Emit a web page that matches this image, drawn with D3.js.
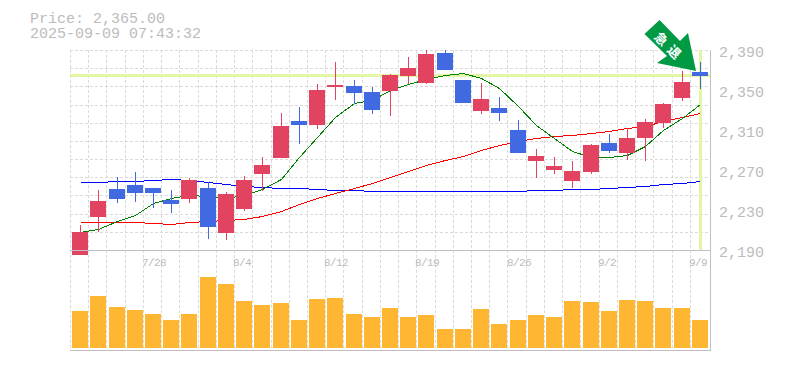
<!DOCTYPE html>
<html>
<head>
<meta charset="utf-8">
<script src="https://cdnjs.cloudflare.com/ajax/libs/d3/7.8.5/d3.min.js"></script>
<style>
  html, body { margin: 0; padding: 0; background: #fff; }
  svg { display: block; }
  text { font-family: "Liberation Mono", monospace; fill: #bcbcbc; }
</style>
</head>
<body>
<div id="chart"></div>
<script>
var dates = ["7/22","7/23","7/24","7/25","7/28","7/29","7/30","7/31","8/1","8/4","8/5","8/6","8/7","8/8","8/12","8/13","8/14","8/15","8/18","8/19","8/20","8/21","8/22","8/25","8/26","8/27","8/28","8/29","9/1","9/2","9/3","9/4","9/5","9/8","9/9"];
var dateTicks = ["7/28","8/4","8/12","8/19","8/26","9/2","9/9"];
var priceTicks = [2390,2350,2310,2270,2230,2190];

var opens  = [2185,2223,2251,2255,2252,2240,2241,2252,2207,2231,2266,2282,2319,2315,2353,2354,2348,2349,2364,2357,2387,2360,2329,2332,2310,2279,2270,2259,2268,2297,2287,2302,2317,2342,2368];
var closes = [2208,2239,2241,2247,2247,2236,2260,2213,2246,2260,2275,2314,2315,2350,2355,2347,2330,2365,2372,2386,2370,2337,2341,2327,2287,2284,2274,2269,2295,2289,2302,2318,2336,2358,2364];
var highs  = [2215,2250,2263,2268,2252,2250,2262,2258,2248,2264,2283,2327,2333,2356,2378,2360,2353,2366,2383,2390,2390,2360,2357,2343,2320,2291,2283,2279,2296,2306,2312,2321,2337,2369,2378];
var lows   = [2185,2208,2237,2238,2232,2227,2237,2201,2200,2229,2249,2282,2296,2311,2340,2336,2326,2324,2356,2356,2370,2337,2326,2319,2287,2262,2266,2252,2266,2287,2280,2279,2312,2339,2351];

var maShort = [2208,2211,2219,2225,2237,2242,2245,2244,2242,2245,2251,2261,2283,2303,2323,2337,2340,2350,2356,2361,2365,2367,2362,2352,2334,2315,2302,2289,2283,2283,2285,2294,2310,2322,2336];
var maMid   = [2218,2218,2218,2218,2217,2216,2218,2219,2220,2221,2224,2229,2236,2242,2247,2252,2257,2263,2269,2275,2280,2284,2290,2295,2299,2302,2304,2305,2307,2309,2312,2314,2319,2323,2327];
var maLong  = [2258,2258,2259,2259,2260,2261,2260,2258,2256,2254,2253,2252,2252,2251,2250,2250,2249,2249,2249,2249,2249,2249,2249,2249,2249,2250,2250,2251,2251,2252,2253,2254,2256,2257,2259];

var volumes = [37,52,41,38,34,28,34,71,64,47,43,45,28,49,50,34,31,40,31,33,19,19,39,24,28,33,31,47,46,37,48,47,40,40,28];

var currentPrice = 2365;
var priceLabel = "Price: 2,365.00";
var timeLabel = "2025-09-09 07:43:32";
var signalLabel = ["急", "退"];

var width = 785, height = 370,
    plot = {left: 71, right: 709, top: 50, bottom: 250, volBottom: 348};

var svg = d3.select("#chart").append("svg")
    .attr("width", width)
    .attr("height", height);

var x = d3.scaleBand().domain(dates).range([plot.left, plot.right]);
var y = d3.scaleLinear().domain([2190, 2390]).range([plot.bottom, plot.top]);
var v = d3.scaleLinear().domain([0, 98]).range([plot.volBottom, plot.volBottom - 98]);
var cx = function(d) { return Math.round(x(d) + x.bandwidth() / 2); };

// grid
var grid = svg.append("g").attr("stroke", "#dadada").attr("stroke-dasharray", "3,2").attr("shape-rendering", "crispEdges");
grid.selectAll("line.v").data(dates).enter().append("line")
    .attr("class", "v")
    .attr("x1", function(d) { return Math.round(x(d)) - 0.5; })
    .attr("x2", function(d) { return Math.round(x(d)) - 0.5; })
    .attr("y1", plot.top)
    .attr("y2", plot.volBottom + 2);
grid.selectAll("line.h").data(d3.range(12)).enter().append("line")
    .attr("class", "h")
    .attr("x1", plot.left - 1)
    .attr("x2", plot.right + 1)
    .attr("y1", function(d) { return Math.round(plot.top + d * 200 / 11) + 0.5; })
    .attr("y2", function(d) { return Math.round(plot.top + d * 200 / 11) + 0.5; });

// current price cross
var cross = svg.append("g").attr("stroke", "#e3f6a6").attr("stroke-width", 3).attr("shape-rendering", "crispEdges");
cross.append("line")
    .attr("x1", plot.left - 1).attr("x2", plot.right + 1)
    .attr("y1", y(currentPrice) + 0.5).attr("y2", y(currentPrice) + 0.5);
cross.append("line")
    .attr("x1", cx(dates[34]) + 0.5).attr("x2", cx(dates[34]) + 0.5)
    .attr("y1", plot.top).attr("y2", plot.bottom);

// moving averages
var line = d3.line()
    .x(function(d, i) { return cx(dates[i]) + 0.5; })
    .y(function(d) { return y(d) + 0.5; });
[[maLong, "#0000ff"], [maMid, "#ff0000"], [maShort, "#008000"]].forEach(function(s) {
  svg.append("path")
      .attr("d", line(s[0]))
      .attr("fill", "none")
      .attr("stroke", s[1])
      .attr("stroke-width", 1)
      .attr("shape-rendering", "crispEdges");
});

// signal arrow, placed relative to the last candle
var ax = cx(dates[34]) - 4, ay = y(currentPrice) - 4;
var arrow = svg.append("g").attr("transform", "translate(" + ax + "," + ay + ")");
arrow.append("path")
    .attr("d", "M0,0L-8,-38L-16,-30L-36.5,-51L-51.5,-37L-29,-15L-39,-8Z")
    .attr("fill", "#009944");
arrow.selectAll("text").data(signalLabel).enter().append("text")
    .attr("transform", function(d, i) { return "translate(" + (-35 + i * 13) + "," + (-32 + i * 13) + ") rotate(45)"; })
    .attr("text-anchor", "middle")
    .attr("dy", "0.35em")
    .style("font-family", "'Noto Sans CJK JP'")
    .style("font-size", "13px")
    .style("font-weight", "bold")
    .style("fill", "#fff")
    .text(function(d) { return d; });

// candles
var candle = svg.append("g").selectAll("g").data(dates).enter().append("g")
    .attr("fill", function(d, i) { return closes[i] >= opens[i] ? "#e24361" : "#4169e1"; })
    .attr("stroke", function(d, i) { return closes[i] >= opens[i] ? "#e24361" : "#4169e1"; })
    .attr("shape-rendering", "crispEdges");
candle.append("line")
    .attr("x1", function(d) { return cx(d) + 0.5; })
    .attr("x2", function(d) { return cx(d) + 0.5; })
    .attr("y1", function(d, i) { return y(highs[i]); })
    .attr("y2", function(d, i) { return y(lows[i]); })
    .attr("stroke-width", 1);
candle.append("rect")
    .attr("stroke", "none")
    .attr("x", function(d) { return cx(d) - 8; })
    .attr("width", 16)
    .attr("y", function(d, i) { return y(Math.max(opens[i], closes[i])); })
    .attr("height", function(d, i) { return Math.abs(opens[i] - closes[i]); });

// volume
svg.append("g").selectAll("rect").data(dates).enter().append("rect")
    .attr("fill", "#ffb733")
    .attr("x", function(d) { return cx(d) - 8; })
    .attr("width", 16)
    .attr("y", function(d, i) { return v(volumes[i]); })
    .attr("height", function(d, i) { return plot.volBottom - v(volumes[i]); });

// frame
var frame = svg.append("g").attr("stroke", "#c0c0c0").attr("shape-rendering", "crispEdges");
frame.append("line").attr("x1", plot.left - 1).attr("x2", plot.right + 1).attr("y1", plot.bottom + 0.5).attr("y2", plot.bottom + 0.5);
frame.append("line").attr("x1", plot.left - 1).attr("x2", plot.right + 1).attr("y1", 350.5).attr("y2", 350.5);
frame.append("line").attr("x1", plot.right + 1.5).attr("x2", plot.right + 1.5).attr("y1", plot.top).attr("y2", 351);

// axes labels
svg.append("g").selectAll("text").data(priceTicks).enter().append("text")
    .attr("x", 719)
    .attr("y", function(d) { return y(d) + 7; })
    .style("font-size", "15px")
    .text(d3.format(","));
svg.append("g").selectAll("text").data(dateTicks).enter().append("text")
    .attr("x", function(d) { return cx(d) - 11; })
    .attr("y", 266)
    .style("font-size", "11px")
    .style("letter-spacing", "-0.6px")
    .text(function(d) { return d; });

svg.append("text").attr("x", 30).attr("y", 23).style("font-size", "15px").text(priceLabel);
svg.append("text").attr("x", 30).attr("y", 38).style("font-size", "15px").text(timeLabel);
</script>
</body>
</html>
